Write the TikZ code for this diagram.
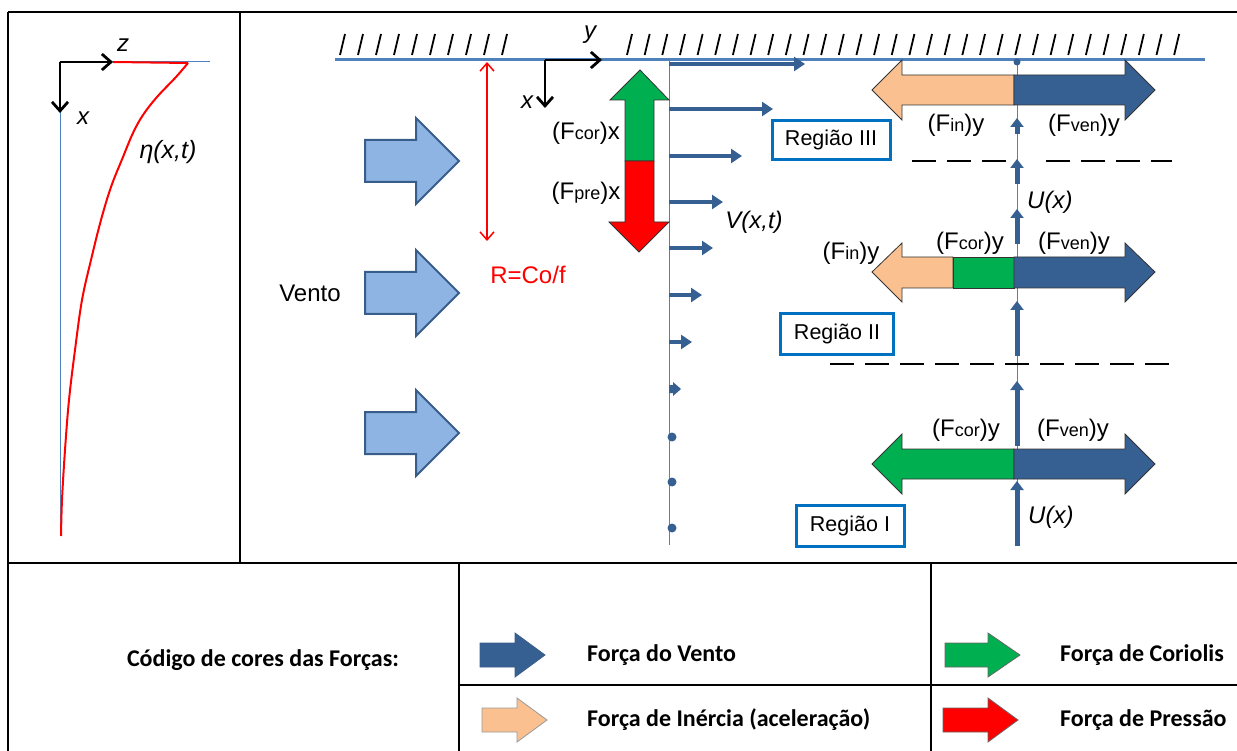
\documentclass[tikz,border=0pt]{standalone}
\usepackage{fontspec}
\setmainfont{Liberation Sans}
\newfontfamily\calib{Carlito}
\usetikzlibrary{arrows.meta}
\definecolor{dkblue}{RGB}{55,96,146}
\definecolor{ltblue}{RGB}{142,180,227}
\definecolor{ltborder}{RGB}{56,93,138}
\definecolor{lineblue}{RGB}{79,129,189}
\definecolor{boxblue}{RGB}{0,112,192}
\definecolor{forange}{RGB}{250,192,144}
\definecolor{fgreen}{RGB}{0,176,80}
\definecolor{fred}{RGB}{255,0,0}
\newcommand\Fl[2]{(F{\fontsize{18}{18}\selectfont #1})#2}
\tikzset{
  tbl/.style={line width=2pt, black},
  thinblue/.style={draw=lineblue, line width=1pt},
  wall/.style={draw=lineblue, line width=3pt},
  hatch/.style={line width=1.8pt, black},
  axarrow/.style={line width=2.8pt, -{Straight Barb[length=9pt,width=16pt]}},
  velarrow/.style={draw=dkblue, line width=4.5pt, -{Triangle[length=11pt,width=14pt]}},
  uarrow/.style={draw=dkblue, line width=5pt, -{Triangle[length=9pt,width=13pt]}},
  lbl/.style={font=\fontsize{24}{26}\selectfont, inner sep=0pt},
  ilbl/.style={font=\itshape\fontsize{24}{26}\selectfont, inner sep=0pt},
  regbox/.style={draw=boxblue, line width=3pt, font=\fontsize{21.5}{23}\selectfont, inner sep=0pt},
  legtxt/.style={font=\calib\bfseries\fontsize{24}{26}\selectfont, anchor=west, inner sep=0pt},
  blockout/.style={draw=black!80, line width=0.8pt},
  windarrow/.style={fill=ltblue, draw=ltborder, line width=2pt},
}
\begin{document}
\begin{tikzpicture}[x=1pt,y=-1pt]
\useasboundingbox (0,0) rectangle (1237,751);
% table
\draw[tbl] (8,12) -- (1237,12);
\draw[tbl] (8,12) -- (8,751);
\draw[tbl] (240,12) -- (240,563);
\draw[tbl] (8,563) -- (1237,563);
\draw[tbl] (459,563) -- (459,751);
\draw[tbl] (931,563) -- (931,751);
\draw[tbl] (459,685) -- (1237,685);

% ---------- left panel
\coordinate (lo) at (60,62);
\coordinate (lz) at (113,62);
\coordinate (lx) at (60,113);
\draw[thinblue] (lo) -- (210,62);
\draw[thinblue] (lo) -- (60,536);
\draw[fred, line width=2pt] (lz) -- (188,63)
  plot[smooth, tension=0.6] coordinates {(188,63) (176,77) (157,97) (143,115) (133,133) (123,157) (111,187) (101,220) (91,260) (82,300) (75,350) (69,400) (65,450) (62,500) (61,536)};
\draw[axarrow] (lo) -- (lz);
\draw[axarrow] (lo) -- (lx);
\node[ilbl] (lzl) at (123,45) {z};
\node[ilbl] (lxl) at (83,118) {x};
\node[ilbl, font=\itshape\fontsize{25}{27}\selectfont] (eta) at (168,152) {η(x,t)};

% ---------- main diagram
\draw[wall] (335,60) -- (1205,60);
\foreach \i in {0,...,9} \draw[hatch] ({340+18*\i},55) -- ++(5,-21);
\foreach \i in {0,...,31} \draw[hatch] ({627+17.65*\i},55) -- ++(5,-21);

\coordinate (mo) at (545,60);
\coordinate (my) at (602,60);
\coordinate (mx) at (545,108);
\draw[axarrow] (mo) -- (my);
\draw[axarrow] (mo) -- (mx);
\node[ilbl] (myl) at (590,35) {y};
\node[ilbl] (mxl) at (527,102) {x};

% R
\coordinate (rt) at (487,62);
\coordinate (rb) at (487,241);
\draw[fred, line width=1.5pt, {Straight Barb[length=8pt,width=14pt]}-{Straight Barb[length=8pt,width=14pt]}] (rt) -- (rb);
\node[lbl, text=fred] (rl) at (528,275) {R=Co/f};

% wind arrows
\foreach \cy in {161,293,433}
  \draw[windarrow] (365,\cy-21) -- (416,\cy-21) -- (416,\cy-43) -- (459,\cy) -- (416,\cy+43) -- (416,\cy+21) -- (365,\cy+21) -- cycle;
\node[lbl] (vento) at (310,293) {Vento};

% velocity profile
\draw[thinblue] (669,60) -- (669,545);
\foreach \yy/\xx in {64/805,109/773,156/742,202/723,248/713,295/702,342/692}
  \draw[velarrow] (669,\yy) -- (\xx,\yy);
\fill[dkblue] (669,385) -- (673,385) -- (673,382) -- (681,389) -- (673,396) -- (673,393) -- (669,393) -- cycle;
\foreach \yy in {437,482,528} \fill[dkblue] (672,\yy) circle (4.5);
\node[ilbl] (vxt) at (754,222) {V(x,t)};

% vertical block arrow (Coriolis up / pressure down)
\draw[fill=fgreen, blockout] (625,161) -- (625,100) -- (610,100) -- (640,70) -- (669,100) -- (654,100) -- (654,161) -- cycle;
\draw[fill=fred, blockout] (625,161) -- (654,161) -- (654,222) -- (669,222) -- (639,252) -- (609,222) -- (625,222) -- cycle;
\node[lbl] (fcx) at (586,133) {\Fl{cor}{x}};
\node[lbl] (fpx) at (586,193) {\Fl{pre}{x}};

% right vertical line
\draw[thinblue] (1017,60) -- (1017,545);
\fill[dkblue] (1017,62) circle (3.5);

% U arrows
\coordinate (u1a) at (1017,134); \coordinate (u1b) at (1017,118);
\coordinate (u2a) at (1017,184); \coordinate (u2b) at (1017,159);
\coordinate (u3a) at (1017,244); \coordinate (u3b) at (1017,209);
\coordinate (u4a) at (1017,356); \coordinate (u4b) at (1017,301);
\coordinate (u5a) at (1017,446); \coordinate (u5b) at (1017,381);
\coordinate (u6a) at (1017,546); \coordinate (u6b) at (1017,481);
\foreach \a/\b in {u1a/u1b,u2a/u2b,u3a/u3b,u4a/u4b,u5a/u5b,u6a/u6b}
  \draw[uarrow] (\a) -- (\b);
\node[ilbl, anchor=west] (ux1) at (1027,202) {U(x)};
\node[ilbl, anchor=west] (ux2) at (1028,517) {U(x)};

% dashed lines
\draw[line width=2pt, dash pattern=on 24pt off 11pt] (912,161) -- (1010,161);
\draw[line width=2pt, dash pattern=on 24pt off 11pt] (1046,161) -- (1172,161);
\draw[line width=2pt, dash pattern=on 24pt off 11pt] (830,364) -- (1170,364);

% Region III double arrow (cy=90)
\draw[fill=forange, blockout] (1014,75) -- (902,75) -- (902,60) -- (872,90) -- (902,120) -- (902,105) -- (1014,105) -- cycle;
\draw[fill=dkblue, blockout] (1014,75) -- (1125,75) -- (1125,60) -- (1155,90) -- (1125,120) -- (1125,105) -- (1014,105) -- cycle;
\node[lbl] (fin3) at (956,125) {\Fl{in}{y}};
\node[lbl] (fven3) at (1084,125) {\Fl{ven}{y}};

% Region II double arrow (cy=272)
\draw[fill=forange, blockout] (953,257) -- (902,257) -- (902,243) -- (872,272) -- (902,302) -- (902,288) -- (953,288) -- cycle;
\draw[fill=fgreen, blockout] (953,257) rectangle (1014,288);
\draw[fill=dkblue, blockout] (1014,257) -- (1125,257) -- (1125,243) -- (1155,272) -- (1125,302) -- (1125,288) -- (1014,288) -- cycle;
\node[lbl] (fin2) at (851,253) {\Fl{in}{y}};
\node[lbl] (fcor2) at (970,243) {\Fl{cor}{y}};
\node[lbl] (fven2) at (1074,243) {\Fl{ven}{y}};

% Region I double arrow (cy=464)
\draw[fill=fgreen, blockout] (1014,449) -- (902,449) -- (902,434) -- (872,464) -- (902,494) -- (902,479) -- (1014,479) -- cycle;
\draw[fill=dkblue, blockout] (1014,449) -- (1125,449) -- (1125,434) -- (1155,464) -- (1125,494) -- (1125,479) -- (1014,479) -- cycle;
\node[lbl] (fcor1) at (966,430) {\Fl{cor}{y}};
\node[lbl] (fven1) at (1073,430) {\Fl{ven}{y}};

% region boxes
\node[regbox, minimum width=118pt, minimum height=39pt] (r3) at (831,140) {Região III};
\node[regbox, minimum width=113pt, minimum height=41pt] (r2) at (837,334) {Região II};
\node[regbox, minimum width=108pt, minimum height=41pt] (r1) at (850,526) {Região I};

% ---------- legend
\node[font=\calib\bfseries\fontsize{24}{26}\selectfont, inner sep=0pt] (code) at (263,660) {Código de cores das Forças:};
\draw[fill=dkblue, draw=ltborder, line width=0.8pt] (480,643) -- (515,643) -- (515,633) -- (545,655) -- (515,677) -- (515,667) -- (480,667) -- cycle;
\node[legtxt] (lv) at (587,655) {Força do Vento};
\draw[fill=fgreen, draw=black!60, line width=0.8pt] (945,643) -- (988,643) -- (988,633) -- (1020,655) -- (988,677) -- (988,667) -- (945,667) -- cycle;
\node[legtxt] (lc) at (1060,655) {Força de Coriolis};
\draw[fill=forange, draw=black!40, line width=0.8pt] (482,708) -- (517,708) -- (517,698) -- (547,720) -- (517,742) -- (517,732) -- (482,732) -- cycle;
\node[legtxt] (li) at (587,720) {Força de Inércia (aceleração)};
\draw[fill=fred, draw=black!60, line width=0.8pt] (943,708) -- (988,708) -- (988,698) -- (1018,720) -- (988,742) -- (988,732) -- (943,732) -- cycle;
\node[legtxt] (lp) at (1060,720) {Força de Pressão};
\end{tikzpicture}
\end{document}
